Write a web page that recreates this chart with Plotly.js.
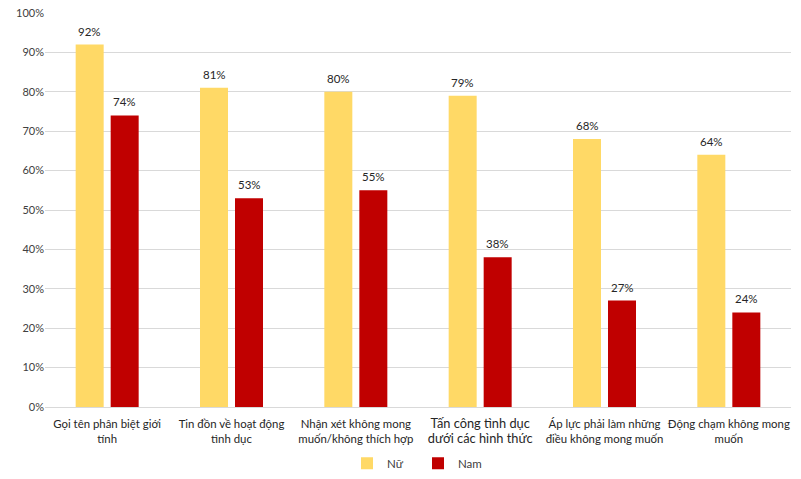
<!DOCTYPE html>
<html><head><meta charset="utf-8">
<script src="https://cdn.plot.ly/plotly-3.0.1.min.js"></script>
<style>body{margin:0}#c{width:801px;height:479px}</style>
</head><body><div id="c"></div>
<script>
const categories = [
  "Gọi tên phân biệt giới<br>tính",
  "Tin đồn về hoạt động<br>tình dục",
  "Nhận xét không mong<br>muốn/không thích hợp",
  "<span style=\"font-size:12.8px\">Tấn công tình dục<br>dưới các hình thức</span>",
  "Áp lực phải làm những<br>điều không mong muốn",
  "Động chạm không mong<br>muốn"
];
const nu = [92, 81, 80, 79, 68, 64];
const nam = [74, 53, 55, 38, 27, 24];
const yTickVals = [0,10,20,30,40,50,60,70,80,90,100];

const FONT = "Lato, 'Open Sans', sans-serif";
const idx = categories.map((_, i) => i);
const traces = [
  {type:'bar', name:'Nữ', x: idx, y: nu, marker:{color:'#FFD966'}},
  {type:'bar', name:'Nam', x: idx, y: nam, marker:{color:'#C00000'}}
];
const annotations = [];
[[nu,-17.5],[nam,17.5]].forEach(([arr, xs]) => {
  arr.forEach((v, i) => annotations.push({
    x: i, y: v, text: v + '%', showarrow:false, xref:'x', yref:'y',
    yanchor:'bottom', xshift: xs, yshift: 5,
    font:{family:FONT, size:11.5, color:'#262626'}
  }));
});
const layout = {
  width:801, height:479,
  margin:{l:45, r:10, t:13, b:72},
  paper_bgcolor:'#fff', plot_bgcolor:'#fff',
  barmode:'group', bargap:0.437, bargroupgap:0.2,
  font:{family:FONT, size:11, color:'#404040'},
  xaxis:{tickvals: idx, ticktext: categories, range:[-0.5,5.5], tickangle:0, ticklabelstandoff:6,
         showgrid:false, zeroline:false, showline:true, linecolor:'#D9D9D9', linewidth:1,
         ticks:'', tickfont:{family:FONT, size:11.4, color:'#262626'}, automargin:false},
  yaxis:{range:[0,100], tickvals: yTickVals, ticktext: yTickVals.map(v => v + '%'),
         showgrid:true, gridcolor:'#D9D9D9', gridwidth:1, zeroline:false, showline:false,
         ticks:'', ticklen:0, tickfont:{family:FONT, size:11, color:'#404040'}, automargin:false},
  showlegend:true,
  legend:{orientation:'h', x:0.5, xanchor:'center', xref:'paper', yref:'container', y:0.033, yanchor:'middle',
          font:{family:FONT, size:11.5, color:'#404040'}, itemwidth:30, entrywidth:26, traceorder:'normal'},
  annotations: annotations
};
Plotly.newPlot('c', traces, layout, {displayModeBar:false, staticPlot:true});
</script>
</body></html>
